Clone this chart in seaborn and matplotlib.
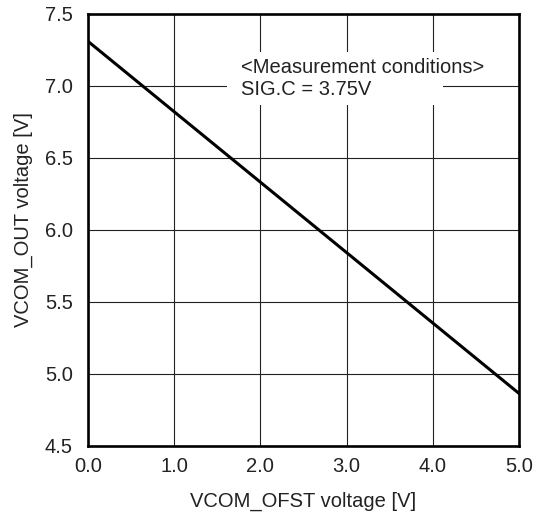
import matplotlib
matplotlib.use("Agg")
import matplotlib.pyplot as plt
import seaborn as sns
import pandas as pd
from matplotlib.patches import Rectangle

# data (straight line)
ofst_v = [0.0, 5.0]
out_v = [7.31, 4.865]

x_ticks = [0.0, 1.0, 2.0, 3.0, 4.0, 5.0]
y_ticks = [4.5, 5.0, 5.5, 6.0, 6.5, 7.0, 7.5]

note = "<Measurement conditions>\nSIG.C = 3.75V"

sns.set_theme(style="white")
plt.rcParams['font.family'] = ['Liberation Sans', 'DejaVu Sans']

df = pd.DataFrame({'ofst': ofst_v, 'out': out_v})

fig = plt.figure(figsize=(5.37, 5.14), dpi=100)
ax = fig.add_axes([0.1639, 0.1323, 0.8026, 0.8405])

sns.lineplot(data=df, x='ofst', y='out', color='black', linewidth=2.2, ax=ax, zorder=3)

ax.set_xlim(0, 5)
ax.set_ylim(4.5, 7.5)
ax.set_xticks(x_ticks)
ax.set_yticks(y_ticks)
ax.set_xticklabels([f"{v:.1f}" for v in x_ticks])
ax.set_yticklabels([f"{v:.1f}" for v in y_ticks])
ax.grid(True, color='#222222', linewidth=0.8)
ax.set_axisbelow(True)

ax.tick_params(axis='both', length=0, labelsize=14.5, colors='#222222')
ax.tick_params(axis='x', pad=8)
ax.tick_params(axis='y', pad=11)

for s in ax.spines.values():
    s.set_visible(True)
    s.set_color('black')
    s.set_linewidth(1.9)

ax.set_xlabel("VCOM_OFST voltage [V]", fontsize=14.5, color='#222222', labelpad=11)
ax.set_ylabel("VCOM_OUT voltage [V]", fontsize=14.5, color='#222222')
ax.yaxis.set_label_coords(-0.128, 0.523)

# white box hiding grid behind the note
ax.add_patch(Rectangle((1.61, 6.868), 2.51, 0.368, facecolor='white',
                       edgecolor='none', zorder=2))
ax.text(1.775, 7.05, note, fontsize=14.5, color='#222222', va='center',
        ha='left', zorder=4, linespacing=1.2)

fig.savefig("out.png", dpi=100)
